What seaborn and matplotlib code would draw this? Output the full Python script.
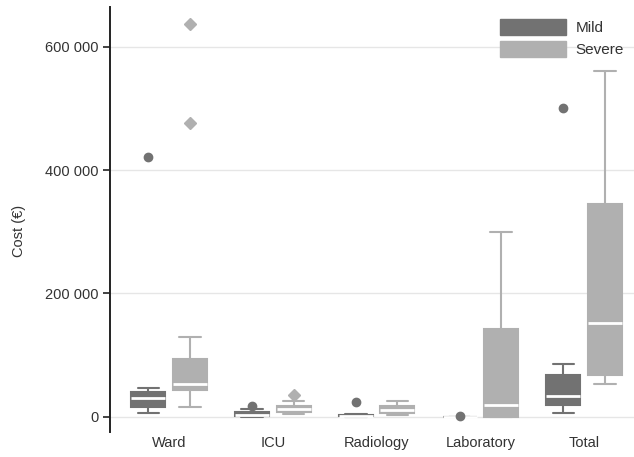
import pandas as pd
import numpy as np
import matplotlib
matplotlib.use("Agg")
import matplotlib.pyplot as plt
from matplotlib.patches import Patch
from matplotlib.ticker import FuncFormatter
import seaborn as sns

# Cost categories and severity groups
categories = ["Ward", "ICU", "Radiology", "Laboratory", "Total"]
groups = ["Mild", "Severe"]

ward_mild = [5500, 10000, 15200, 22000, 30300, 35000, 39600, 46500, 421000]
ward_severe = [16200, 30000, 38000, 43300, 47000, 50000, 53000, 70000, 85000,
               94100, 129800, 476000, 637000]
icu_mild = [0, 0, 500, 1500, 2700, 4500, 7000, 13000, 17500]
icu_severe = [4400, 6000, 7100, 9500, 12000, 15000, 17400, 25000, 34700]
radiology_mild = [0, 200, 400, 900, 1500, 2200, 3000, 3800, 24300]
radiology_severe = [2700, 5500, 10900, 16800, 25000]
laboratory_mild = [0, 0, 0, 0, 0, 0, 0, 0, 1000]
laboratory_severe = [0, 0, 19500, 141700, 300000]
total_mild = [5400, 12000, 18400, 26000, 33500, 50000, 67100, 85400, 500000]
total_severe = [53000, 68100, 151400, 345000, 560000]

yticks = [0, 200000, 400000, 600000]

colors = {"Mild": "#727272", "Severe": "#b0b0b0"}
markers = {"Mild": "o", "Severe": "D"}

series = {
    ("Ward", "Mild"): ward_mild, ("Ward", "Severe"): ward_severe,
    ("ICU", "Mild"): icu_mild, ("ICU", "Severe"): icu_severe,
    ("Radiology", "Mild"): radiology_mild, ("Radiology", "Severe"): radiology_severe,
    ("Laboratory", "Mild"): laboratory_mild, ("Laboratory", "Severe"): laboratory_severe,
    ("Total", "Mild"): total_mild, ("Total", "Severe"): total_severe,
}
rows = []
for (cat, grp), vals in series.items():
    for v in vals:
        rows.append({"category": cat, "group": grp, "cost": v})
df = pd.DataFrame(rows)

sns.set_style("white")
plt.rcParams["font.family"] = ["Liberation Sans", "DejaVu Sans"]
plt.rcParams["font.size"] = 10.5

fig = plt.figure(figsize=(6.34, 4.57), dpi=100)
ax = fig.add_axes([110 / 634, 25 / 457, 524 / 634, 425 / 457])

sns.boxplot(
    data=df, x="category", y="cost", hue="group",
    order=categories, hue_order=groups,
    palette=colors, saturation=1, width=0.8, gap=0.18,
    medianprops=dict(color="white", linewidth=2),
    linewidth=1.5, legend=False, ax=ax,
)

cap_half = 0.104
for cont, grp in zip(ax.containers, groups):
    c = colors[grp]
    for b in cont.boxes:
        b.set_facecolor(c)
        b.set_edgecolor(c)
    for ln in list(cont.whiskers) + list(cont.caps):
        ln.set_color(c)
    for cap in cont.caps:
        xs = np.asarray(cap.get_xdata(), dtype=float)
        mid = xs.mean()
        cap.set_xdata([mid - cap_half, mid + cap_half])
    for md in cont.medians:
        md.set_zorder(5)
    for fl in cont.fliers:
        fl.set_marker(markers[grp])
        fl.set_markerfacecolor(c)
        fl.set_markeredgecolor(c)
        fl.set_markersize(6 if grp == "Mild" else 6.5)
        fl.set_zorder(6)

ax.set_xlim(-0.57, 4.48)
ax.set_ylim(-24800, 664300)
ax.set_yticks(yticks)
ax.yaxis.set_major_formatter(FuncFormatter(lambda v, p: f"{int(v):,}".replace(",", " ")))
ax.grid(axis="y", color="#e6e6e6", linewidth=1)
ax.set_axisbelow(True)

for s in ["top", "right", "bottom"]:
    ax.spines[s].set_visible(False)
ax.spines["left"].set_color("#222222")
ax.spines["left"].set_linewidth(1.4)
ax.tick_params(axis="y", left=True, length=5, width=1.2, color="#222222",
               pad=3, labelsize=10.5, labelcolor="#333333")
ax.tick_params(axis="x", bottom=False, length=0, pad=3, labelsize=10.5,
               labelcolor="#333333")
ax.set_xlabel("")
ax.set_ylabel("Cost (€)", fontsize=10.5, color="#333333")
ax.yaxis.set_label_coords(-0.161, 0.473)

handles = [Patch(facecolor=colors[g], edgecolor=colors[g]) for g in groups]
fig.legend(handles, groups, loc="upper left", bbox_to_anchor=(500 / 634, 1 - 19 / 457),
           frameon=False, borderpad=0, borderaxespad=0, handlelength=4.3,
           handleheight=1.2, handletextpad=0.65, labelspacing=0.4,
           fontsize=11, labelcolor="#333333")

fig.savefig("out.png", dpi=100)
